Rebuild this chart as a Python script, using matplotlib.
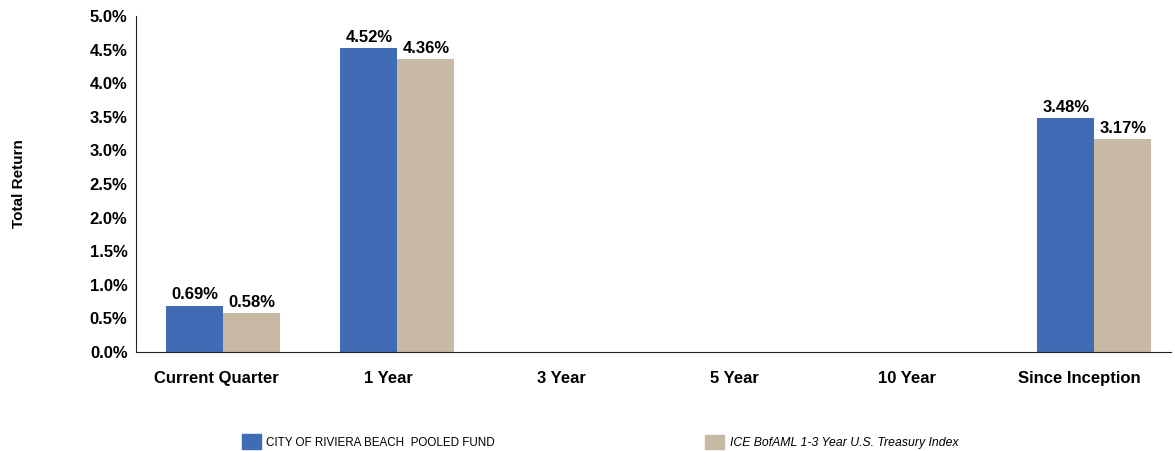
import matplotlib
matplotlib.use("Agg")
import matplotlib.pyplot as plt
import matplotlib.patches as mpatches
import numpy as np

plt.rcParams['font.family'] = ['Liberation Sans', 'DejaVu Sans']

categories = ["Current Quarter", "1 Year", "3 Year", "5 Year", "10 Year", "Since Inception"]
fund = [0.69, 4.52, None, None, None, 3.48]
index = [0.58, 4.36, None, None, None, 3.17]
fund_name = "CITY OF RIVIERA BEACH  POOLED FUND"
index_name = "ICE BofAML 1-3 Year U.S. Treasury Index"

blue = "#3F6CB5"
tan = "#C8B9A5"

fig = plt.figure(figsize=(11.75, 4.51), dpi=100)
ax = fig.add_axes([0.1157, 0.2195, 0.881, 0.745])

x = np.arange(len(categories))
w = 0.327
for i in range(len(categories)):
    if fund[i] is not None:
        ax.bar(x[i] - w / 2, fund[i], w, color=blue)
        ax.text(x[i] - w / 2, fund[i] + 0.05, "%.2f%%" % fund[i], ha="center", va="bottom",
                fontsize=12, fontweight="bold")
    if index[i] is not None:
        ax.bar(x[i] + w / 2, index[i], w, color=tan)
        ax.text(x[i] + w / 2, index[i] + 0.05, "%.2f%%" % index[i], ha="center", va="bottom",
                fontsize=12, fontweight="bold")

ax.set_xlim(-0.5, 5.44)
ax.set_ylim(0, 5.0)
ax.set_yticks(np.arange(0, 5.01, 0.5))
ax.set_yticklabels(["%.1f%%" % v for v in np.arange(0, 5.01, 0.5)], fontsize=12, fontweight="bold")
# category labels sit slightly left of the bar groups in the original
ax.set_xticks(x * 0.991 - 0.041)
ax.set_xticklabels(categories, fontsize=12, fontweight="bold")
ax.tick_params(length=0, pad=6)
ax.tick_params(axis="x", pad=14)
ax.spines["top"].set_visible(False)
ax.spines["right"].set_visible(False)
ax.spines["left"].set_color("#222222")
ax.spines["bottom"].set_color("#222222")
ax.set_ylabel("Total Return", fontsize=11, fontweight="bold", labelpad=46)

leg1 = fig.legend(handles=[mpatches.Patch(color=blue, label=fund_name)],
                  loc="center left", bbox_to_anchor=(0.197, 0.02), frameon=False,
                  fontsize=8.4, handlelength=1.6, handleheight=1.6, handletextpad=0.5)
leg2 = fig.legend(handles=[mpatches.Patch(color=tan, label=index_name)],
                  loc="center left", bbox_to_anchor=(0.591, 0.02), frameon=False,
                  prop={"size": 8.8, "style": "italic"}, handlelength=1.5, handleheight=1.5,
                  handletextpad=0.5)

fig.savefig("out.png", dpi=100)
